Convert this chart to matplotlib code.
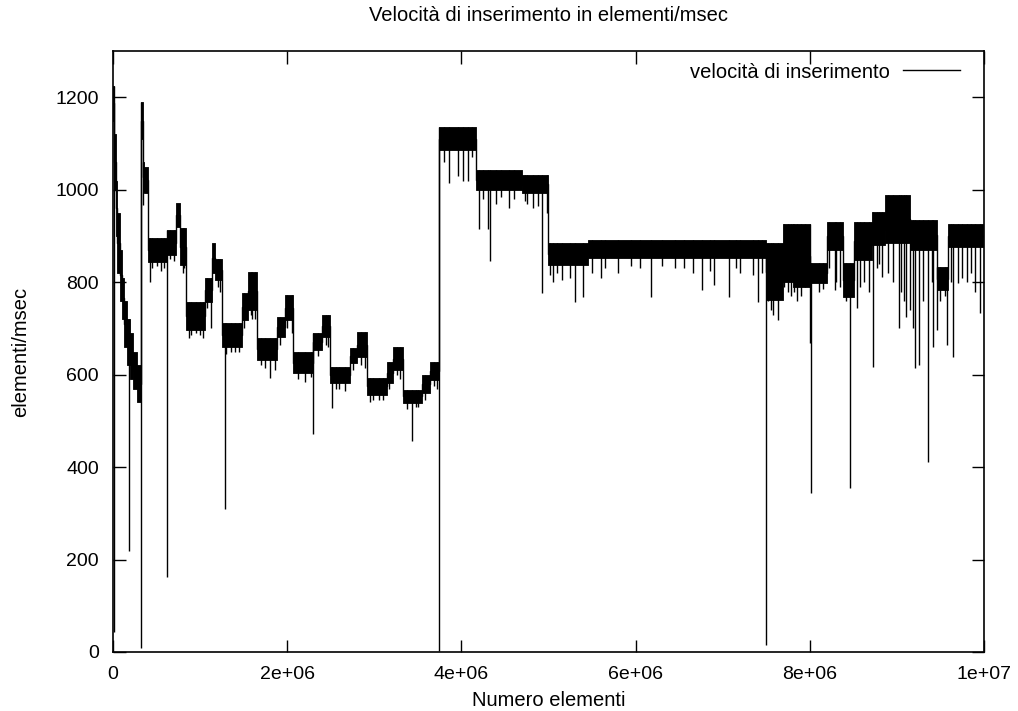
"""Velocita di inserimento - gnuplot style trace."""

import matplotlib
matplotlib.use('Agg')
import matplotlib.pyplot as plt
from matplotlib.lines import Line2D
import numpy as np

plt.rcParams['font.family'] = ['Liberation Sans', 'DejaVu Sans']

# data (x in millions of elements, y in elementi/msec)
# noise band of each plateau: start, lower edge, upper edge
seg_x0 = [0.000, 0.012, 0.030, 0.050, 0.075, 0.100, 0.130, 0.160, 0.190, 0.230, 0.270,
          0.316, 0.341, 0.356, 0.402, 0.617, 0.723, 0.769,
          0.835, 1.056, 1.137, 1.170, 1.248, 1.478, 1.550, 1.653, 1.879, 1.975,
          2.070, 2.300, 2.396, 2.491, 2.721, 2.805, 2.913, 3.142, 3.218, 3.333,
          3.544, 3.640, 3.746, 4.168, 4.692,
          4.998, 5.450,
          7.494, 7.692, 7.807, 8.002, 8.197, 8.381, 8.507, 8.714, 8.863, 9.150,
          9.460, 9.587]
seg_lo = [1150, 1000, 900, 820, 760, 720, 660, 620, 590, 570, 540,
          1110, 995, 993, 843, 859, 919, 837,
          697, 757, 820, 805, 660, 718, 740, 632, 681, 718,
          603, 653, 681, 582, 625, 638, 556, 582, 610, 539,
          560, 588, 1086, 999, 993,
          838, 852,
          761, 800, 790, 798, 870, 768, 848, 880, 885, 870,
          783, 876]
seg_hi = [1225, 1120, 1020, 950, 870, 810, 760, 720, 690, 650, 620,
          1190, 1060, 1049, 895, 913, 971, 917,
          757, 809, 885, 850, 712, 776, 822, 679, 725, 772,
          649, 690, 729, 616, 658, 692, 593, 627, 660, 567,
          599, 627, 1136, 1043, 1032,
          884, 892,
          885, 925, 925, 841, 930, 841, 930, 952, 988, 934,
          833, 925]
x_end = 9.99

# downward spikes: position and lowest value
spike_x = [0.006, 0.184, 0.316, 0.341, 0.430, 0.617, 0.90, 1.00, 1.12, 1.286,
           1.40, 1.60, 1.80, 2.30, 2.52, 2.60, 2.95, 3.05, 3.433, 3.50, 3.746,
           3.86, 3.96, 4.02, 4.08, 4.20, 4.30, 4.33, 4.45, 4.55, 4.73, 4.82,
           4.93, 4.98, 5.05, 5.30, 5.40, 5.60, 5.80, 6.18, 6.45, 6.66, 6.76,
           6.90, 7.07, 7.20, 7.41, 7.494, 7.55, 7.63, 7.75, 7.85, 7.95, 8.00,
           8.01, 8.29, 8.46, 8.54, 8.73, 8.83, 9.02, 9.11, 9.21, 9.25, 9.36,
           9.42, 9.46, 9.57, 9.64, 9.70, 9.80, 9.95]
spike_y = [43, 218, 8, 967, 800, 162, 686, 686, 700, 309,
           650, 720, 593, 472, 528, 570, 540, 545, 456, 530, 3,
           1014, 1030, 1020, 1020, 915, 915, 846, 985, 960, 975, 960,
           776, 950, 800, 758, 768, 810, 820, 768, 830, 820, 783,
           795, 768, 820, 757, 15, 740, 718, 780, 760, 790, 668,
           344, 783, 355, 744, 617, 811, 700, 725, 614, 620, 411,
           660, 697, 664, 638, 798, 800, 733]

# short dips hanging under the bands
dip_x = [0.45, 0.50, 0.55, 0.58, 0.65, 0.70, 0.80, 0.82, 0.87, 0.95, 1.03,
         1.08, 1.20, 1.23, 1.30, 1.36, 1.45, 1.50, 1.58, 1.63, 1.70, 1.75,
         1.86, 1.92, 2.00, 2.05, 2.12, 2.20, 2.27, 2.35, 2.44, 2.47, 2.56,
         2.66, 2.76, 2.85, 2.89, 2.98, 3.10, 3.17, 3.26, 3.30, 3.38, 3.48,
         3.58, 3.68, 3.72, 3.80, 4.12, 4.25, 4.40, 4.60, 4.75, 4.88,
         5.02, 5.10, 5.15, 5.25, 5.50, 5.65, 5.95, 6.05, 6.30, 6.55, 6.85,
         7.15, 7.35, 7.45, 7.52, 7.58, 7.70, 7.78, 7.82, 7.90, 8.10, 8.15,
         8.22, 8.30, 8.35, 8.42, 8.58, 8.62, 8.68, 8.77, 8.80, 8.90, 8.96,
         9.05, 9.08, 9.15, 9.18, 9.30, 9.40, 9.50, 9.55, 9.62, 9.75, 9.85,
         9.90]
dip_y = [830, 835, 825, 830, 850, 845, 820, 830, 680, 690, 680,
         745, 790, 780, 645, 650, 650, 700, 730, 720, 620, 615,
         610, 665, 700, 690, 590, 585, 595, 640, 665, 660, 570,
         565, 610, 620, 615, 545, 545, 570, 600, 590, 525, 530,
         545, 575, 570, 1060, 1070, 980, 970, 980, 970, 965,
         815, 820, 805, 810, 820, 830, 835, 830, 835, 830, 825,
         830, 815, 820, 760, 730, 790, 770, 780, 770, 780, 785,
         830, 800, 790, 760, 790, 800, 780, 830, 840, 820, 800,
         780, 760, 740, 700, 760, 800, 760, 770, 800, 810, 820,
         780]

xticks = [0, 2, 4, 6, 8, 10]
xtick_labels = ['0', '2e+06', '4e+06', '6e+06', '8e+06', '1e+07']
yticks = [0, 200, 400, 600, 800, 1000, 1200]

fig = plt.figure(figsize=(10.18, 7.11), dpi=100)
ax = fig.add_axes([0.111, 0.083, 0.8556, 0.845])

# plateaus drawn as filled noise bands
seg_x1 = seg_x0[1:] + [x_end]
for x0, x1, lo, hi in zip(seg_x0, seg_x1, seg_lo, seg_hi):
    ax.fill_between([x0 * 1e6, x1 * 1e6], [lo, lo], [hi, hi],
                    color='black', lw=0.6)

# connecting trace between consecutive plateaus
mid = [(lo + hi) / 2 for lo, hi in zip(seg_lo, seg_hi)]
ax.plot(np.array(seg_x0 + [x_end]) * 1e6, mid + [mid[-1]],
        drawstyle='steps-post', color='black', lw=1.0)

# spikes and dips go from their low value up to the band they belong to
for xs, ys in ((spike_x, spike_y), (dip_x, dip_y)):
    idx = np.searchsorted(seg_x0, xs, side='right') - 1
    tops = np.array(seg_hi)[idx]
    ax.vlines(np.array(xs) * 1e6, ys, tops, color='black', lw=1.0)

ax.set_xlim(0, 1e7)
ax.set_ylim(0, 1300)
ax.set_xticks([t * 1e6 for t in xticks])
ax.set_xticklabels(xtick_labels)
ax.set_yticks(yticks)
ax.tick_params(direction='in', length=9, width=1, top=True, right=True,
               labelsize=14, pad=10)
for s in ax.spines.values():
    s.set_linewidth(1.2)

ax.set_xlabel('Numero elementi', fontsize=14.5, labelpad=6)
ax.set_ylabel('elementi/msec', fontsize=14.5, labelpad=18)
ax.set_title('Velocità di inserimento in elementi/msec', fontsize=14.5, pad=22)

handle = Line2D([], [], color='black', lw=1)
ax.legend([handle], ['velocità di inserimento'], loc='center right',
          bbox_to_anchor=(960 / 1018, 1 - 72 / 711),
          bbox_transform=fig.transFigure, frameon=False, markerfirst=False,
          fontsize=14.5, handlelength=2.85, handletextpad=0.65,
          borderpad=0, borderaxespad=0)

fig.savefig('out.png', dpi=100)
